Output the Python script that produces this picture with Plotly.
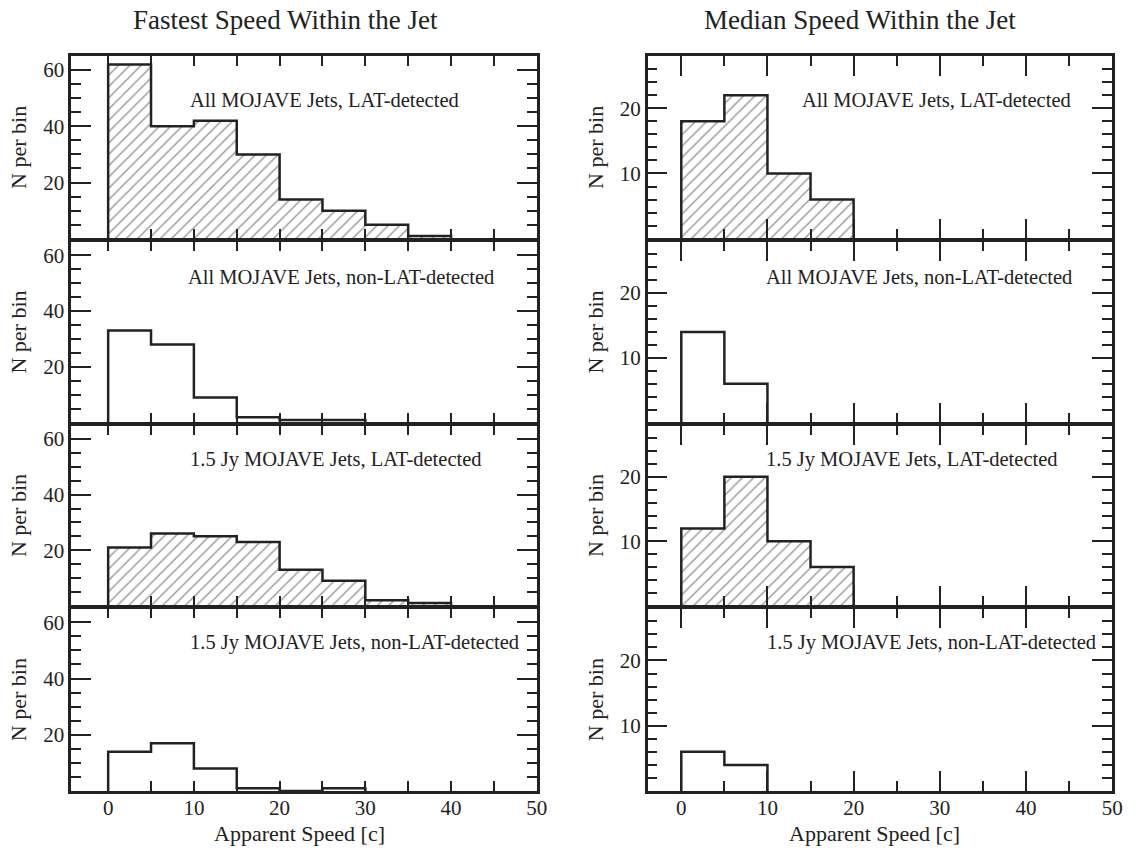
import plotly.graph_objects as go

# ---------------- data ----------------
bin_edges = [0, 5, 10, 15, 20, 25, 30, 35, 40]
fast_all_lat = [62, 40, 42, 30, 14, 10, 5, 1]
fast_all_nonlat = [33, 28, 9, 2, 1, 1]
fast_15_lat = [21, 26, 25, 23, 13, 9, 2, 1]
fast_15_nonlat = [14, 17, 8, 1, 0, 1]
med_all_lat = [18, 22, 10, 6]
med_all_nonlat = [14, 6]
med_15_lat = [12, 20, 10, 6]
med_15_nonlat = [6, 4]

panel_labels = ["All MOJAVE Jets, LAT-detected",
                "All MOJAVE Jets, non-LAT-detected",
                "1.5 Jy MOJAVE Jets, LAT-detected",
                "1.5 Jy MOJAVE Jets, non-LAT-detected"]
column_titles = ["Fastest Speed Within the Jet", "Median Speed Within the Jet"]
hatched = [True, False, True, False]
columns = [[fast_all_lat, fast_all_nonlat, fast_15_lat, fast_15_nonlat],
           [med_all_lat, med_all_nonlat, med_15_lat, med_15_nonlat]]
y_tickvals = [[20, 40, 60], [10, 20]]
x_label = "Apparent Speed [c]"
y_label = "N per bin"

# ---------------- layout geometry ----------------
W, H = 1138, 852
FONT = "Liberation Serif"
INK = "#222222"
LW = 2.5
col_px = [(72, 542), (654, 1123)]
bounds_px = [56, 240, 424, 607, 791]
y_ranges = [[0, 65], [0, 28]]
y_minor = [5, 2]
x_ranges = [[-4.3, 50], [-3.9, 50]]
label_x_px = [[190, 188, 190, 190], [808, 771, 771, 772]]
label_y_dom = [0.76, 0.805, 0.81, 0.81]
title_x_px = [288, 868]


def px_x(p):
    return p / W


def px_y(p):
    return 1 - p / H


fig = go.Figure()
layout = dict(
    width=W, height=H,
    margin=dict(l=0, r=0, t=0, b=0),
    paper_bgcolor="white", plot_bgcolor="white",
    showlegend=False,
    font=dict(family=FONT, color=INK),
    bargap=0,
)
annotations = []

for c in range(2):
    for r in range(4):
        n = c * 4 + r + 1
        xs = "" if n == 1 else str(n)
        vals = columns[c][r]
        centers = [(bin_edges[i] + bin_edges[i + 1]) / 2 for i in range(len(vals))]
        if hatched[r]:
            fig.add_trace(go.Bar(
                x=centers, y=vals, width=5,
                xaxis="x" + xs, yaxis="y" + xs,
                marker=dict(color="white", line=dict(width=0),
                            pattern=dict(shape="/", fgcolor="#333333", bgcolor="white",
                                         size=8, solidity=0.18)),
                hoverinfo="skip"))
        step_x = [bin_edges[0]] + bin_edges[:len(vals)] + [bin_edges[len(vals)]]
        step_y = [0] + list(vals) + [0]
        fig.add_trace(go.Scatter(
            x=step_x, y=step_y, mode="lines", line_shape="hv",
            line=dict(color=INK, width=2.5),
            xaxis="x" + xs, yaxis="y" + xs, hoverinfo="skip"))

        x0, x1 = col_px[c]
        ytop = bounds_px[r] + (LW / 2 if r > 0 else 0)
        ybot = bounds_px[r + 1] - (LW / 2 if r < 3 else 0)
        xa = dict(
            domain=[px_x(x0), px_x(x1)], range=x_ranges[c], anchor="y" + xs,
            showline=True, linewidth=LW, linecolor=INK, mirror="allticks",
            ticks="inside", tickcolor=INK, tickwidth=2,
            showgrid=False, zeroline=False,
            tickmode="linear", tick0=0, dtick=10,
            showticklabels=(r == 3), ticklabelstandoff=-4,
            tickfont=dict(family=FONT, size=21, color=INK),
        )
        major_len = 10 if c == 0 else 20
        xa.update(ticklen=major_len,
                  minor=dict(ticks="inside", tickmode="linear", tick0=0, dtick=5,
                             ticklen=10, tickwidth=2, tickcolor=INK, showgrid=False))
        ya = dict(
            domain=[px_y(ybot), px_y(ytop)], range=y_ranges[c], anchor="x" + xs,
            showline=True, linewidth=LW, linecolor=INK, mirror="allticks",
            ticks="inside", tickcolor=INK, tickwidth=2, ticklen=20,
            tickmode="array", tickvals=y_tickvals[c],
            minor=dict(ticks="inside", tickmode="linear", tick0=0, dtick=y_minor[c],
                       ticklen=10, tickwidth=2, tickcolor=INK, showgrid=False),
            showgrid=False, zeroline=False,
            tickfont=dict(family=FONT, size=21, color=INK),
            title=dict(text=y_label, font=dict(family=FONT, size=22, color=INK), standoff=11),
        )
        layout["xaxis" + xs] = xa
        layout["yaxis" + xs] = ya

        annotations.append(dict(
            text=panel_labels[r], xref="paper", yref="y" + xs + " domain",
            x=px_x(label_x_px[c][r]), y=label_y_dom[r],
            xanchor="left", yanchor="middle", showarrow=False,
            font=dict(family=FONT, size=20.5, color=INK)))

    # x-axis title under the bottom panel of this column
    x0, x1 = col_px[c]
    annotations.append(dict(
        text=x_label, xref="paper", yref="paper",
        x=px_x((x0 + x1) / 2 - 5), y=px_y(833), xanchor="center", yanchor="middle",
        showarrow=False, font=dict(family=FONT, size=22, color=INK)))
    annotations.append(dict(
        text=column_titles[c], xref="paper", yref="paper",
        x=px_x(title_x_px[c]), y=px_y(20), xanchor="center", yanchor="middle",
        showarrow=False, font=dict(family=FONT, size=27, color=INK)))

layout["annotations"] = annotations
fig.update_layout(**layout)
fig.write_html("out.html",
               config={"displayModeBar": False},
               post_script="document.body.style.margin='0';document.body.style.overflow='hidden';")
